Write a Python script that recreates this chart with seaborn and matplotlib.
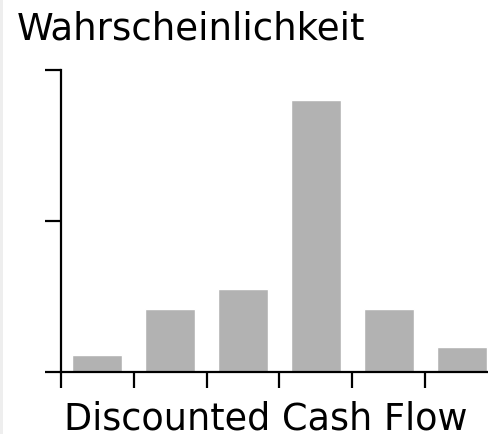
import matplotlib
matplotlib.use("Agg")
import matplotlib.pyplot as plt
import seaborn as sns
import pandas as pd
from matplotlib.patches import Rectangle

# bins of the discounted cash flow and their probabilities
bins = ['1', '2', '3', '4', '5', '6']
probability = [0.055, 0.207, 0.274, 0.902, 0.207, 0.081]
y_ticks = [0, 0.5, 1.0]
bin_edges = [-0.5, 0.5, 1.5, 2.5, 3.5, 4.5]

df = pd.DataFrame({'bin': bins, 'p': probability})

sns.set_style('white')
plt.rcParams['font.family'] = ['DejaVu Sans']
plt.rcParams['text.color'] = 'black'

fig = plt.figure(figsize=(4.88, 4.35), dpi=100)
ax = fig.add_axes([60.7 / 488, (435 - 372.5) / 435, 1 - 60.7 / 488, (372.5 - 71) / 435])

sns.barplot(data=df, x='bin', y='p', color='#b2b2b2', saturation=1, width=0.68, ax=ax)

ax.set_xlim(-0.5, 5.36)
ax.set_ylim(0, 1.0)
ax.set_xticks(bin_edges)
ax.set_xticklabels([])
ax.set_yticks(y_ticks)
ax.set_yticklabels([])
ax.set_xlabel('')
ax.set_ylabel('')

sns.despine(ax=ax)
for side in ['left', 'bottom']:
    ax.spines[side].set_linewidth(1.6)
    ax.spines[side].set_color('black')
ax.tick_params(axis='both', direction='out', length=11.5, width=1.6, color='black',
               left=True, bottom=True)

fig.text(17 / 488, (435 - 39) / 435, 'Wahrscheinlichkeit', fontsize=26.7,
         va='baseline', ha='left', color='black')
fig.text(266 / 488, (435 - 430) / 435, 'Discounted Cash Flow', fontsize=26.4,
         va='baseline', ha='center', color='black')

# faint border strip at the left edge
fig.patches.append(Rectangle((0, 0), 3 / 488, 1, transform=fig.transFigure,
                             facecolor='#eeeeee', edgecolor='none', zorder=-1))

fig.savefig('out.png', dpi=100)
